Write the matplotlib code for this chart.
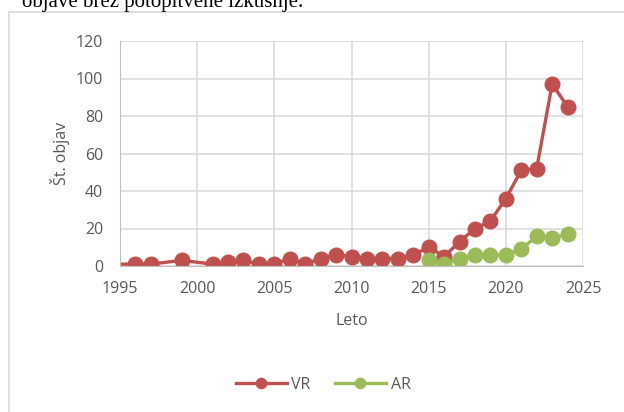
import matplotlib.pyplot as plt
from matplotlib.patches import Rectangle

# podatki
leta_vr = [1994, 1996, 1997, 1999, 2001, 2002, 2003, 2004, 2005, 2006, 2007, 2008,
           2009, 2010, 2011, 2012, 2013, 2014, 2015, 2016, 2017, 2018, 2019, 2020,
           2021, 2022, 2023, 2024]
vr = [1, 1, 1, 3, 1, 2, 3, 1, 1, 4, 1, 4,
      6, 5, 4, 4, 4, 6, 10, 5, 13, 20, 24, 36,
      51, 52, 97, 85]
leta_ar = [2015, 2016, 2017, 2018, 2019, 2020, 2021, 2022, 2023, 2024]
ar = [3, 1, 4, 6, 6, 6, 9, 16, 15, 17]

x_ticks = [1995, 2000, 2005, 2010, 2015, 2020, 2025]
y_ticks = [0, 20, 40, 60, 80, 100, 120]

rdeca = '#c0504d'
zelena = '#9bbb59'
siva = '#595959'

plt.rcParams['font.family'] = ['Open Sans', 'DejaVu Sans']

fig = plt.figure(figsize=(6.24, 4.12), dpi=100)

# okvir grafa in odrezan tekst zgoraj
fig.patches.append(Rectangle((9 / 624, -0.01), 1.0, 1 - 12 / 412 + 0.01,
                             transform=fig.transFigure, fill=False,
                             edgecolor='#d9d9d9', linewidth=1.2))
fig.text(22 / 624, 1 - 7 / 412, 'objave brez potopitvene izkušnje.',
         family='Liberation Serif', fontsize=15, va='baseline', color='black')

ax = fig.add_axes([120 / 624, (412 - 266) / 412, 463 / 624, 225 / 412])
ax.plot(leta_vr, vr, color=rdeca, lw=2.4, marker='o', ms=10.5, label='VR')
ax.plot(leta_ar, ar, color=zelena, lw=2.4, marker='o', ms=10.5, label='AR')

ax.set_xlim(1995, 2025)
ax.set_ylim(0, 120)
ax.set_xticks(x_ticks)
ax.set_yticks(y_ticks)
ax.grid(True, color='#d9d9d9', lw=1.1)
ax.set_axisbelow(True)
for s in ['top', 'right']:
    ax.spines[s].set_visible(False)
ax.spines['left'].set_color('#bfbfbf')
ax.spines['bottom'].set_color('#bfbfbf')
ax.tick_params(length=0, labelsize=11.5, labelcolor=siva)
ax.tick_params(axis='x', pad=11)
ax.tick_params(axis='y', pad=12)

ax.set_xlabel('Leto', fontsize=11.5, color=siva, labelpad=11)
ax.set_ylabel('Št. objav', fontsize=11.5, color=siva, labelpad=4)

ax.legend(loc='center', bbox_to_anchor=(323 / 624, 1 - 385 / 412),
          bbox_transform=fig.transFigure, ncol=2, frameon=False,
          fontsize=11.5, labelcolor=siva, handlelength=3.2, markerscale=0.7,
          columnspacing=1.5, handletextpad=0.3)

plt.savefig('out.png', dpi=100)
